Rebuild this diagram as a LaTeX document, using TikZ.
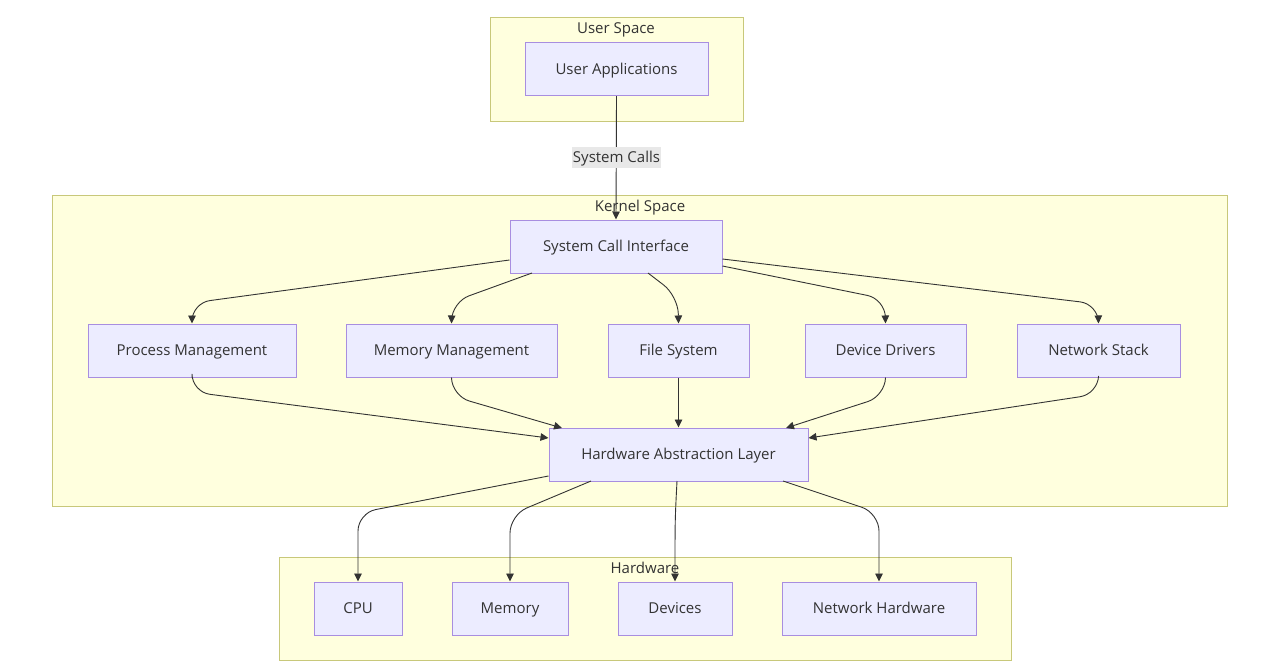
\documentclass[tikz,border=0pt]{standalone}
\usepackage{fontspec}
\setmainfont{Open Sans}
\usetikzlibrary{arrows.meta}
\definecolor{clusterfill}{HTML}{FFFFDE}
\definecolor{clusterline}{HTML}{C8C87A}
\definecolor{boxfill}{HTML}{ECECFF}
\definecolor{boxline}{HTML}{A88EE0}
\definecolor{ink}{HTML}{333333}
\definecolor{labelfill}{HTML}{E8E8E8}
\tikzset{
  cluster/.style={draw=clusterline, fill=clusterfill, line width=1pt},
  clustertitle/.style={text=ink, font=\fontsize{15}{17}\selectfont,
    text height=12.5pt, text depth=2pt, inner sep=0pt},
  box/.style={draw=boxline, fill=boxfill, line width=1pt, text=ink,
    minimum height=53pt, inner sep=0pt, text height=12.5pt, text depth=2pt,
    font=\fontsize{15}{17}\selectfont},
  link/.style={draw=ink, line width=0.9pt, rounded corners=18pt,
    -{Triangle[length=8pt,width=7.5pt]}},
  edgelabel/.style={fill=labelfill, text=ink, inner xsep=1pt, inner ysep=3pt,
    text height=12pt, text depth=2.5pt, font=\fontsize{15}{17}\selectfont}
}
\begin{document}
\begin{tikzpicture}[x=1pt, y=-1pt]
\useasboundingbox (0,0) rectangle (1285,667);
\fill[white] (0,0) rectangle (1285,667);

\draw[cluster] (490,17) rectangle (743,121);
\draw[cluster] (52,195) rectangle (1227,506);
\draw[cluster] (279,557) rectangle (1011,660);
\node[clustertitle] (userspace) at (616,28.5) {User Space};
\node[clustertitle] (kernelspace) at (640,206.5) {Kernel Space};
\node[clustertitle] (hardware) at (645,568.5) {Hardware};

\node[box, minimum width=183pt] (apps) at (616.5,69) {User Applications};
\node[box, minimum width=212pt] (sci) at (616,246.5) {System Call Interface};
\node[box, minimum width=208pt] (proc) at (192,350.5) {Process Management};
\node[box, minimum width=211pt] (mem) at (451.5,350.5) {Memory Management};
\node[box, minimum width=141pt] (fs) at (678.5,350.5) {File System};
\node[box, minimum width=161pt] (dev) at (885.5,350.5) {Device Drivers};
\node[box, minimum width=163pt] (net) at (1098.5,350.5) {Network Stack};
\node[box, minimum width=259pt] (hal) at (678.5,454.5) {Hardware Abstraction Layer};
\node[box, minimum width=88pt] (cpu) at (358,608.5) {CPU};
\node[box, minimum width=116pt] (ram) at (510,608.5) {Memory};
\node[box, minimum width=114pt] (devices) at (675,608.5) {Devices};
\node[box, minimum width=194pt] (nethw) at (879,608.5) {Network Hardware};

\draw[link] (apps.south) -- (sci.north);
\node[edgelabel] (syscalls) at (616.5,157.5) {System Calls};

\draw[link] (sci.west |- 0,260) -- (192,303) -- (proc.north);
\draw[link] (532,273) -- (452,302) -- (mem.north);
\draw[link] (648,273) -- (678,296) -- (fs.north);
\draw[link] (sci.east |- 0,266) -- (885,299) -- (dev.north);
\draw[link] (sci.east |- 0,259) -- (1098,304) -- (net.north);

\draw[link] (proc.south) -- (192,392) -- (hal.west |- 0,438);
\draw[link] (mem.south) -- (452,396) -- (562,428);
\draw[link] (fs.south) -- (hal.north -| fs.south);
\draw[link] (dev.south) -- (885,396) -- (786,428);
\draw[link] (net.south) -- (1098,394) -- (hal.east |- 0,438);

\draw[link] (hal.west |- 0,476) -- (358,513) -- (cpu.north);
\draw[link] (591,481) -- (510,515) -- (ram.north);
\draw[link] (677,481) .. controls (675,520) .. (devices.north);
\draw[link] (783,481) -- (879,513) -- (nethw.north);
\end{tikzpicture}
\end{document}
